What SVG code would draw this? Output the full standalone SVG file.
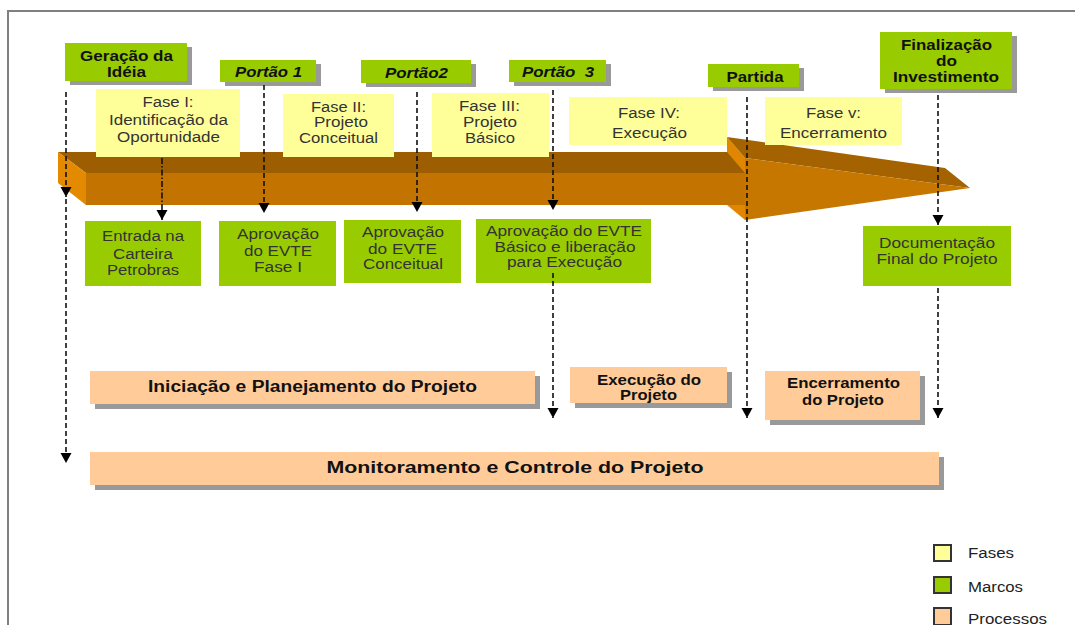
<svg xmlns="http://www.w3.org/2000/svg" width="1075" height="625" viewBox="0 0 1075 625">
<defs>
<style>
.frame{fill:none;stroke:#808080;stroke-width:2}
.sh{fill:#999999}
.ms{fill:#99cc00}
.ph{fill:#ffff99}
.rs{fill:#99cc00}
.pr{fill:#ffcc99}
text{font-family:"Liberation Sans",Arial,sans-serif}
.tb{font-weight:bold;font-size:15px;fill:#111;text-anchor:middle}
.ti{font-weight:bold;font-style:italic;font-size:15px;fill:#111;text-anchor:middle}
.tn{font-size:14px;fill:#333;text-anchor:middle}
.tp{font-weight:bold;font-size:16px;fill:#111;text-anchor:middle}
.tl{font-size:14px;fill:#222}
.dl{fill:none;stroke:#111;stroke-width:1.6;stroke-dasharray:5 3}
.dd{fill:none;stroke:#111;stroke-width:1.6;stroke-dasharray:6 2 1.5 2}
.lg{stroke:#333;stroke-width:2}
</style>
<marker id="ah" markerUnits="userSpaceOnUse" markerWidth="12" markerHeight="12" refX="10" refY="5.5" orient="auto">
<path d="M0,0 L10,5.5 L0,11 z" fill="#000"/>
</marker>
</defs>
<rect width="1075" height="625" fill="#fff"/>
<path class="frame" d="M8,625 L8,11 L1075,11"/>

<g id="big-arrow">
<polygon points="727,137 745,158 745,220 727,205" fill="#e08600"/>
<polygon points="727,137 945,168 970,188 745,158" fill="#a46300"/>
<polygon points="745,158 970,188 745,220" fill="#c67700"/>
<polygon points="58,152 727,152 745,173 86,173" fill="#9c5e00"/>
<polygon points="86,173 745,173 745,205 86,205" fill="#c27300"/>
<polygon points="58,152 86,173 86,205 58,183" fill="#e38a00"/>
</g>

<g id="fase1"><rect class="ph" x="96" y="89" width="144" height="68"/>
<text class="tn" x="168" y="107" textLength="51" lengthAdjust="spacingAndGlyphs">Fase I:</text>
<text class="tn" x="168.5" y="124.5" textLength="119" lengthAdjust="spacingAndGlyphs">Identificação da</text>
<text class="tn" x="168.5" y="141.5" textLength="103" lengthAdjust="spacingAndGlyphs">Oportunidade</text></g>
<g id="fase2"><rect class="ph" x="283" y="94" width="111" height="63"/>
<text class="tn" x="338.5" y="112" textLength="55" lengthAdjust="spacingAndGlyphs">Fase II:</text>
<text class="tn" x="341" y="127" textLength="54" lengthAdjust="spacingAndGlyphs">Projeto</text>
<text class="tn" x="338.5" y="143" textLength="79" lengthAdjust="spacingAndGlyphs">Conceitual</text></g>
<g id="fase3"><rect class="ph" x="432" y="93" width="117" height="64"/>
<text class="tn" x="489.5" y="111" textLength="61" lengthAdjust="spacingAndGlyphs">Fase III:</text>
<text class="tn" x="490" y="127" textLength="54" lengthAdjust="spacingAndGlyphs">Projeto</text>
<text class="tn" x="490" y="143" textLength="50" lengthAdjust="spacingAndGlyphs">Básico</text></g>
<g id="fase4"><rect class="ph" x="569" y="97" width="158" height="48"/>
<text class="tn" x="649" y="118" textLength="62" lengthAdjust="spacingAndGlyphs">Fase IV:</text>
<text class="tn" x="649.5" y="138" textLength="75" lengthAdjust="spacingAndGlyphs">Execução</text></g>
<g id="fase5"><rect class="ph" x="765" y="97" width="137" height="48"/>
<text class="tn" x="833.5" y="118" textLength="55" lengthAdjust="spacingAndGlyphs">Fase v:</text>
<text class="tn" x="833.5" y="138" textLength="107" lengthAdjust="spacingAndGlyphs">Encerramento</text></g>

<g id="geracao"><rect class="sh" x="70" y="47" width="122" height="38"/><rect class="ms" x="65" y="43" width="122" height="38"/>
<text class="tb" x="126.5" y="61" textLength="93" lengthAdjust="spacingAndGlyphs">Geração da</text>
<text class="tb" x="126.5" y="77" textLength="39" lengthAdjust="spacingAndGlyphs">Idéia</text></g>
<g id="portao1"><rect class="sh" x="225" y="64" width="96" height="22"/><rect class="ms" x="220" y="60" width="96" height="22"/>
<text class="ti" x="268.5" y="77" textLength="67" lengthAdjust="spacingAndGlyphs">Portão 1</text></g>
<g id="portao2"><rect class="sh" x="366" y="64" width="110" height="23"/><rect class="ms" x="361" y="60" width="110" height="23"/>
<text class="ti" x="416.5" y="78" textLength="63" lengthAdjust="spacingAndGlyphs">Portão2</text></g>
<g id="portao3"><rect class="sh" x="514" y="64" width="97" height="22"/><rect class="ms" x="509" y="60" width="97" height="22"/>
<text class="ti" x="558" y="77" textLength="72" lengthAdjust="spacingAndGlyphs" xml:space="preserve">Portão  3</text></g>
<g id="partida"><rect class="sh" x="713" y="68" width="91" height="23"/><rect class="ms" x="708" y="64" width="91" height="23"/>
<text class="tb" x="755" y="82" textLength="57" lengthAdjust="spacingAndGlyphs">Partida</text></g>
<g id="finalizacao"><rect class="sh" x="885" y="36" width="132" height="57"/><rect class="ms" x="880" y="32" width="132" height="57"/>
<text class="tb" x="946.5" y="50" textLength="91" lengthAdjust="spacingAndGlyphs">Finalização</text>
<text class="tb" x="946.5" y="66" textLength="21" lengthAdjust="spacingAndGlyphs">do</text>
<text class="tb" x="946" y="82" textLength="106" lengthAdjust="spacingAndGlyphs">Investimento</text></g>

<g id="entrada"><rect class="rs" x="85" y="221" width="116" height="65"/>
<text class="tn" x="143" y="241" textLength="82" lengthAdjust="spacingAndGlyphs">Entrada na</text>
<text class="tn" x="143" y="259" textLength="60" lengthAdjust="spacingAndGlyphs">Carteira</text>
<text class="tn" x="143" y="275" textLength="72" lengthAdjust="spacingAndGlyphs">Petrobras</text></g>
<g id="aprov1"><rect class="rs" x="219" y="221" width="117" height="65"/>
<text class="tn" x="278" y="239" textLength="82" lengthAdjust="spacingAndGlyphs">Aprovação</text>
<text class="tn" x="278" y="256" textLength="68" lengthAdjust="spacingAndGlyphs">do EVTE</text>
<text class="tn" x="278" y="272" textLength="48" lengthAdjust="spacingAndGlyphs">Fase I</text></g>
<g id="aprov2"><rect class="rs" x="344" y="220" width="117" height="63"/>
<text class="tn" x="403" y="237" textLength="82" lengthAdjust="spacingAndGlyphs">Aprovação</text>
<text class="tn" x="402.5" y="254" textLength="69" lengthAdjust="spacingAndGlyphs">do EVTE</text>
<text class="tn" x="403" y="269" textLength="80" lengthAdjust="spacingAndGlyphs">Conceitual</text></g>
<g id="aprov3"><rect class="rs" x="476" y="219" width="175" height="64"/>
<text class="tn" x="564" y="236" textLength="156" lengthAdjust="spacingAndGlyphs">Aprovação do EVTE</text>
<text class="tn" x="565" y="252" textLength="141" lengthAdjust="spacingAndGlyphs">Básico e liberação</text>
<text class="tn" x="564.5" y="267" textLength="115" lengthAdjust="spacingAndGlyphs">para Execução</text></g>
<g id="documentacao"><rect class="rs" x="863" y="226" width="148" height="60"/>
<text class="tn" x="937" y="248" textLength="116" lengthAdjust="spacingAndGlyphs">Documentação</text>
<text class="tn" x="937" y="264" textLength="121" lengthAdjust="spacingAndGlyphs">Final do Projeto</text></g>

<g id="iniciacao"><rect class="sh" x="95" y="376" width="445" height="33"/><rect class="pr" x="90" y="371" width="445" height="33"/>
<text class="tp" x="312.5" y="392" textLength="329" lengthAdjust="spacingAndGlyphs">Iniciação e Planejamento do Projeto</text></g>
<g id="execucao"><rect class="sh" x="575" y="372" width="157" height="36"/><rect class="pr" x="570" y="367" width="157" height="36"/>
<text class="tb" x="649" y="384.5" textLength="104" lengthAdjust="spacingAndGlyphs">Execução do</text>
<text class="tb" x="648.5" y="400" textLength="57" lengthAdjust="spacingAndGlyphs">Projeto</text></g>
<g id="encerramento"><rect class="sh" x="770" y="376" width="155" height="49"/><rect class="pr" x="765" y="371" width="155" height="49"/>
<text class="tb" x="843.5" y="388" textLength="113" lengthAdjust="spacingAndGlyphs">Encerramento</text>
<text class="tb" x="843" y="405" textLength="82" lengthAdjust="spacingAndGlyphs">do Projeto</text></g>
<g id="monitoramento"><rect class="sh" x="95" y="457" width="849" height="33"/><rect class="pr" x="90" y="452" width="849" height="33"/>
<text class="tp" x="515" y="473" textLength="377" lengthAdjust="spacingAndGlyphs">Monitoramento e Controle do Projeto</text></g>

<g id="connectors">
<line class="dl" x1="66" y1="92" x2="66" y2="197" marker-end="url(#ah)"/>
<line class="dl" x1="66" y1="199" x2="66" y2="463" marker-end="url(#ah)"/>
<line class="dd" x1="162" y1="158" x2="162" y2="220" marker-end="url(#ah)"/>
<line class="dl" x1="264" y1="85" x2="264" y2="213" marker-end="url(#ah)"/>
<line class="dl" x1="417" y1="92" x2="417" y2="212" marker-end="url(#ah)"/>
<line class="dl" x1="553" y1="90" x2="553" y2="210" marker-end="url(#ah)"/>
<line class="dl" x1="553" y1="273" x2="553" y2="418" marker-end="url(#ah)"/>
<line class="dl" x1="747" y1="97" x2="747" y2="418" marker-end="url(#ah)"/>
<line class="dl" x1="938" y1="95" x2="938" y2="225" marker-end="url(#ah)"/>
<line class="dl" x1="938" y1="288" x2="938" y2="418" marker-end="url(#ah)"/>
</g>

<g id="legend">
<rect class="lg" x="934" y="545" width="17" height="16" fill="#ffff99"/>
<text class="tl" x="968" y="558" textLength="46" lengthAdjust="spacingAndGlyphs">Fases</text>
<rect class="lg" x="934" y="577" width="17" height="16" fill="#99cc00"/>
<text class="tl" x="968" y="592" textLength="55" lengthAdjust="spacingAndGlyphs">Marcos</text>
<rect class="lg" x="934" y="608" width="17" height="17" fill="#ffcc99"/>
<text class="tl" x="968" y="624" textLength="79" lengthAdjust="spacingAndGlyphs">Processos</text>
</g>
</svg>
